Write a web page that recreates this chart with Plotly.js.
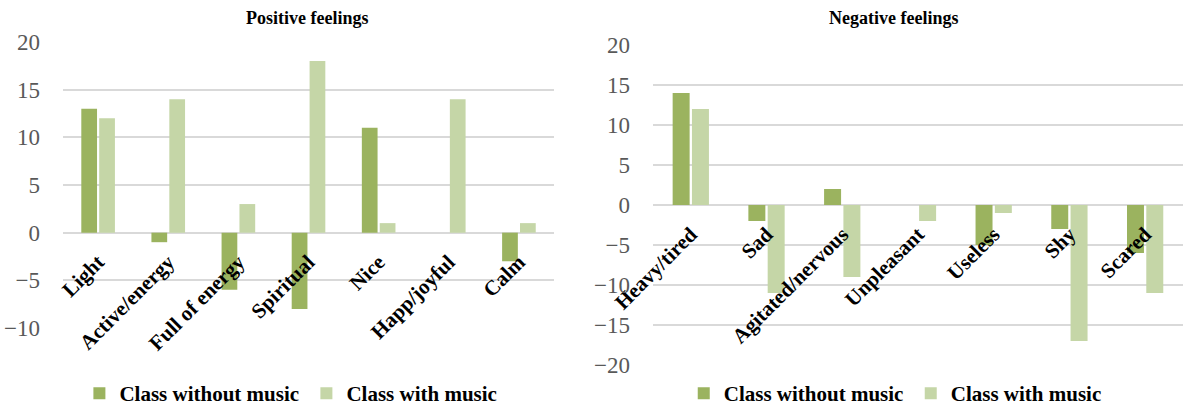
<!DOCTYPE html>
<html>
<head>
<meta charset="utf-8">
<script src="https://cdn.plot.ly/plotly-3.0.1.min.js"></script>
<style>html,body{margin:0;padding:0;background:#fff;}#chart{width:1185px;height:410px;}</style>
</head>
<body>
<div id="chart"></div>
<script>
const seriesNames = ['Class without music', 'Class with music'];
const posCategories = ['Light', 'Active/energy', 'Full of energy', 'Spiritual', 'Nice', 'Happ/joyful', 'Calm'];
const posWithout = [13, -1, -6, -8, 11, 0, -3];
const posWith = [12, 14, 3, 18, 1, 14, 1];
const negCategories = ['Heavy/tired', 'Sad', 'Agitated/nervous', 'Unpleasant', 'Useless', 'Shy', 'Scared'];
const negWithout = [14, -2, 2, 0, -5, -3, -6];
const negWith = [12, -11, -9, -2, -1, -17, -11];
const panelTitles = ['Positive feelings', 'Negative feelings'];

const DARK = '#9BB35F';
const LIGHT = '#C5D6A7';
const FONT = 'Liberation Serif';

const traces = [
  {type: 'bar', x: posCategories, y: posWithout, name: seriesNames[0], marker: {color: DARK}, xaxis: 'x', yaxis: 'y', legend: 'legend'},
  {type: 'bar', x: posCategories, y: posWith, name: seriesNames[1], marker: {color: LIGHT}, xaxis: 'x', yaxis: 'y', legend: 'legend'},
  {type: 'bar', x: negCategories, y: negWithout, name: seriesNames[0], marker: {color: DARK}, xaxis: 'x2', yaxis: 'y2', legend: 'legend2'},
  {type: 'bar', x: negCategories, y: negWith, name: seriesNames[1], marker: {color: LIGHT}, xaxis: 'x2', yaxis: 'y2', legend: 'legend2'}
];

const yDom1 = [0.2, 0.8976], yRange1 = [-10, 20];
const yDom2 = [0.1098, 0.8902], yRange2 = [-20, 20];
function zeroPos(dom, rng) { return dom[0] + (0 - rng[0]) / (rng[1] - rng[0]) * (dom[1] - dom[0]); }

const xCommon = {
  anchor: 'free', showgrid: false, showline: false, zeroline: false, ticks: '', automargin: false,
  tickangle: -45, ticklabelstandoff: 12,
  tickfont: {family: FONT, size: 21, color: '#000000', weight: 'bold'}, fixedrange: true
};
const yCommon = {
  dtick: 5, gridcolor: '#D9D9D9', gridwidth: 1.5, zeroline: true, zerolinecolor: '#D9D9D9', zerolinewidth: 1.5,
  showline: false, ticks: '', automargin: false, tickfont: {family: FONT, size: 23, color: '#595959'},
  ticklabelstandoff: 22, fixedrange: true
};
const legCommon = {
  orientation: 'h', yanchor: 'middle', xanchor: 'left', y: 0.04,
  font: {family: FONT, size: 21, color: '#000000', weight: 'bold'}, bgcolor: 'rgba(0,0,0,0)',
  entrywidth: 182, entrywidthmode: 'pixels', itemwidth: 30
};

const layout = {
  width: 1185, height: 410,
  margin: {l: 0, r: 0, t: 0, b: 0, autoexpand: false},
  paper_bgcolor: '#FFFFFF', plot_bgcolor: '#FFFFFF',
  barmode: 'group', bargap: 0.49, bargroupgap: 0.12,
  font: {family: FONT},
  xaxis: Object.assign({}, xCommon, {domain: [0.0532, 0.4675], position: zeroPos(yDom1, yRange1)}),
  yaxis: Object.assign({}, yCommon, {domain: yDom1, range: yRange1, anchor: 'x'}),
  xaxis2: Object.assign({}, xCommon, {domain: [0.551, 0.9983], position: zeroPos(yDom2, yRange2)}),
  yaxis2: Object.assign({}, yCommon, {domain: yDom2, range: yRange2, anchor: 'x2'}),
  legend: Object.assign({}, legCommon, {x: 0.067}),
  legend2: Object.assign({}, legCommon, {x: 0.577}),
  annotations: [
    {text: panelTitles[0], xref: 'paper', yref: 'paper', x: 0.259, y: 0.956, showarrow: false, xanchor: 'center', yanchor: 'middle',
     font: {family: FONT, size: 18, color: '#000000', weight: 'bold'}},
    {text: panelTitles[1], xref: 'paper', yref: 'paper', x: 0.7536, y: 0.956, showarrow: false, xanchor: 'center', yanchor: 'middle',
     font: {family: FONT, size: 18, color: '#000000', weight: 'bold'}}
  ],
  showlegend: true
};

Plotly.newPlot('chart', traces, layout, {displayModeBar: false});
</script>
</body>
</html>
